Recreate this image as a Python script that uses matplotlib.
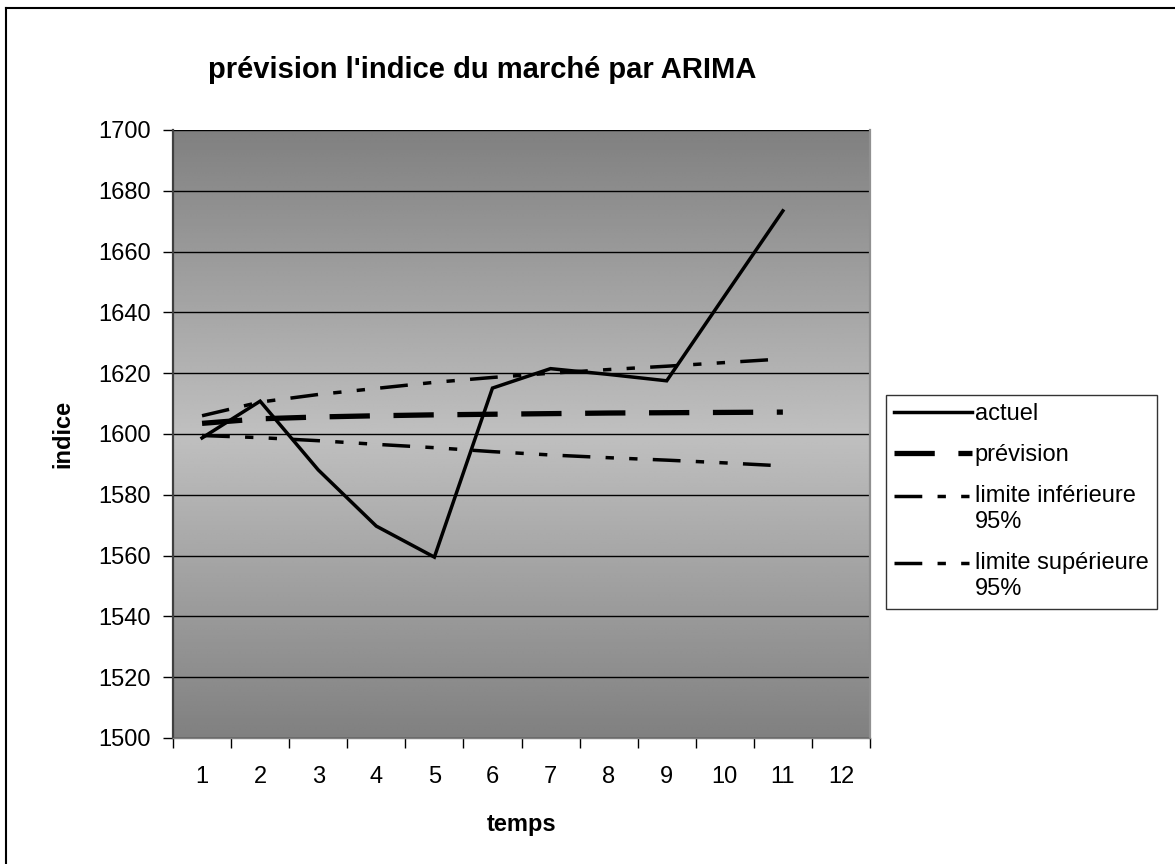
import numpy as np
import matplotlib
matplotlib.use('Agg')
import matplotlib.pyplot as plt
from matplotlib.lines import Line2D
from matplotlib.legend_handler import HandlerLine2D

plt.rcParams['font.family'] = ['Liberation Sans', 'DejaVu Sans']
plt.rcParams['lines.scale_dashes'] = False

# data
temps = [1, 2, 3, 4, 5, 6, 7, 8, 9, 10, 11]
actuel = [1598.7, 1610.8, 1588.2, 1569.7, 1559.5, 1615.1, 1621.5, 1619.6, 1617.5, 1645.5, 1673.4]
prevision = [1603.5, 1605.0, 1605.6, 1606.0, 1606.3, 1606.5, 1606.7, 1606.9, 1607.0, 1607.1, 1607.2]
lim_inf = [1599.5, 1598.8, 1597.8, 1596.6, 1595.5, 1594.2, 1593.1, 1592.2, 1591.4, 1590.5, 1589.5]
lim_sup = [1606.0, 1610.5, 1613.0, 1615.0, 1617.0, 1618.6, 1620.0, 1621.2, 1622.3, 1623.5, 1624.7]
categories = [str(i) for i in range(1, 13)]
yticks = list(range(1500, 1701, 20))


# legend handle drawn level with the first line of a wrapped label
class FirstLineHandler(HandlerLine2D):
    def __init__(self, shift, **kw):
        super().__init__(**kw)
        self.shift = shift

    def create_artists(self, legend, orig_handle, xdescent, ydescent, width, height, fontsize, trans):
        arts = super().create_artists(legend, orig_handle, xdescent, ydescent, width, height, fontsize, trans)
        for a in arts:
            a.set_ydata(np.asarray(a.get_ydata()) + self.shift)
        return arts


fig = plt.figure(figsize=(11.75, 8.64), dpi=100)
ax = fig.add_axes([173/1175, 1-738/864, (870-173)/1175, (738-130)/864])

# grey gradient background (dark - light - dark)
t = np.linspace(0, 1, 256)
g = 128 + 64 * (1 - np.abs(2 * t - 1))
grad = np.repeat(g[:, None], 2, axis=1) / 255.0
ax.imshow(grad, cmap='gray', vmin=0, vmax=1, extent=[0, 1, 0, 1], transform=ax.transAxes,
          aspect='auto', zorder=0, interpolation='bilinear')

for y in yticks:
    ax.axhline(y, color='black', lw=1.0, zorder=1)

dash_lim = (0, (20, 11, 6, 11, 6, 11))
l1, = ax.plot(temps, actuel, color='black', lw=2.5, solid_joinstyle='miter', zorder=3, label='actuel')
l2, = ax.plot(temps, prevision, color='black', lw=3.8, ls=(0, (29, 17)), zorder=3, label='prévision')
l3, = ax.plot(temps, lim_inf, color='black', lw=2.5, ls=dash_lim, zorder=3, label='limite inférieure\n95%')
l4, = ax.plot(temps, lim_sup, color='black', lw=2.5, ls=dash_lim, zorder=3,
              label='limite supérieure\n95%')

ax.set_xlim(0.5, 12.5)
ax.set_ylim(1500, 1700)
ax.set_yticks(yticks)
ax.set_xticks(np.arange(0.5, 13, 1))
ax.set_xticklabels([])
ax.set_xticks(range(1, 13), minor=True)
ax.set_xticklabels(categories, minor=True)
ax.tick_params(axis='x', which='major', direction='out', length=7, width=1, color='black')
ax.tick_params(axis='x', which='minor', length=0, pad=20, labelsize=17)
ax.tick_params(axis='y', direction='out', length=7, width=1, color='black', labelsize=17, pad=9)

ax.spines['top'].set_visible(False)
ax.spines['left'].set_color('#404040')
ax.spines['left'].set_linewidth(1.6)
ax.spines['right'].set_color('#909090')
ax.spines['right'].set_linewidth(1.6)
ax.spines['bottom'].set_color('#808080')
ax.spines['bottom'].set_linewidth(1.0)

ax.set_xlabel('temps', fontsize=17, fontweight='bold', labelpad=18)
ax.set_ylabel('indice', fontsize=17, fontweight='bold', labelpad=17)
fig.text(482/1175, 1-70/864, "prévision l'indice du marché par ARIMA", ha='center', va='center',
         fontsize=21, fontweight='bold')

leg = fig.legend(handles=[l1, l2, l3, l4], loc='upper left', bbox_to_anchor=(886/1175, 1-395/864),
                 frameon=True, fancybox=False, edgecolor='black', fontsize=17, handlelength=3.3,
                 handletextpad=0.1, labelspacing=0.8, borderpad=0.35, borderaxespad=0,
                 handler_map={l3: FirstLineHandler(10), l4: FirstLineHandler(10)})
leg.get_frame().set_linewidth(1.0)
for txt in leg.get_texts():
    txt.set_linespacing(1.25)

# figure border (top and left edges visible)
fig.add_artist(Line2D([6/1175, 6/1175], [0, 1-8/864], color='black', lw=1.5, transform=fig.transFigure))
fig.add_artist(Line2D([6/1175, 1], [1-8/864, 1-8/864], color='black', lw=1.5, transform=fig.transFigure))

fig.savefig('out.png', dpi=100)
